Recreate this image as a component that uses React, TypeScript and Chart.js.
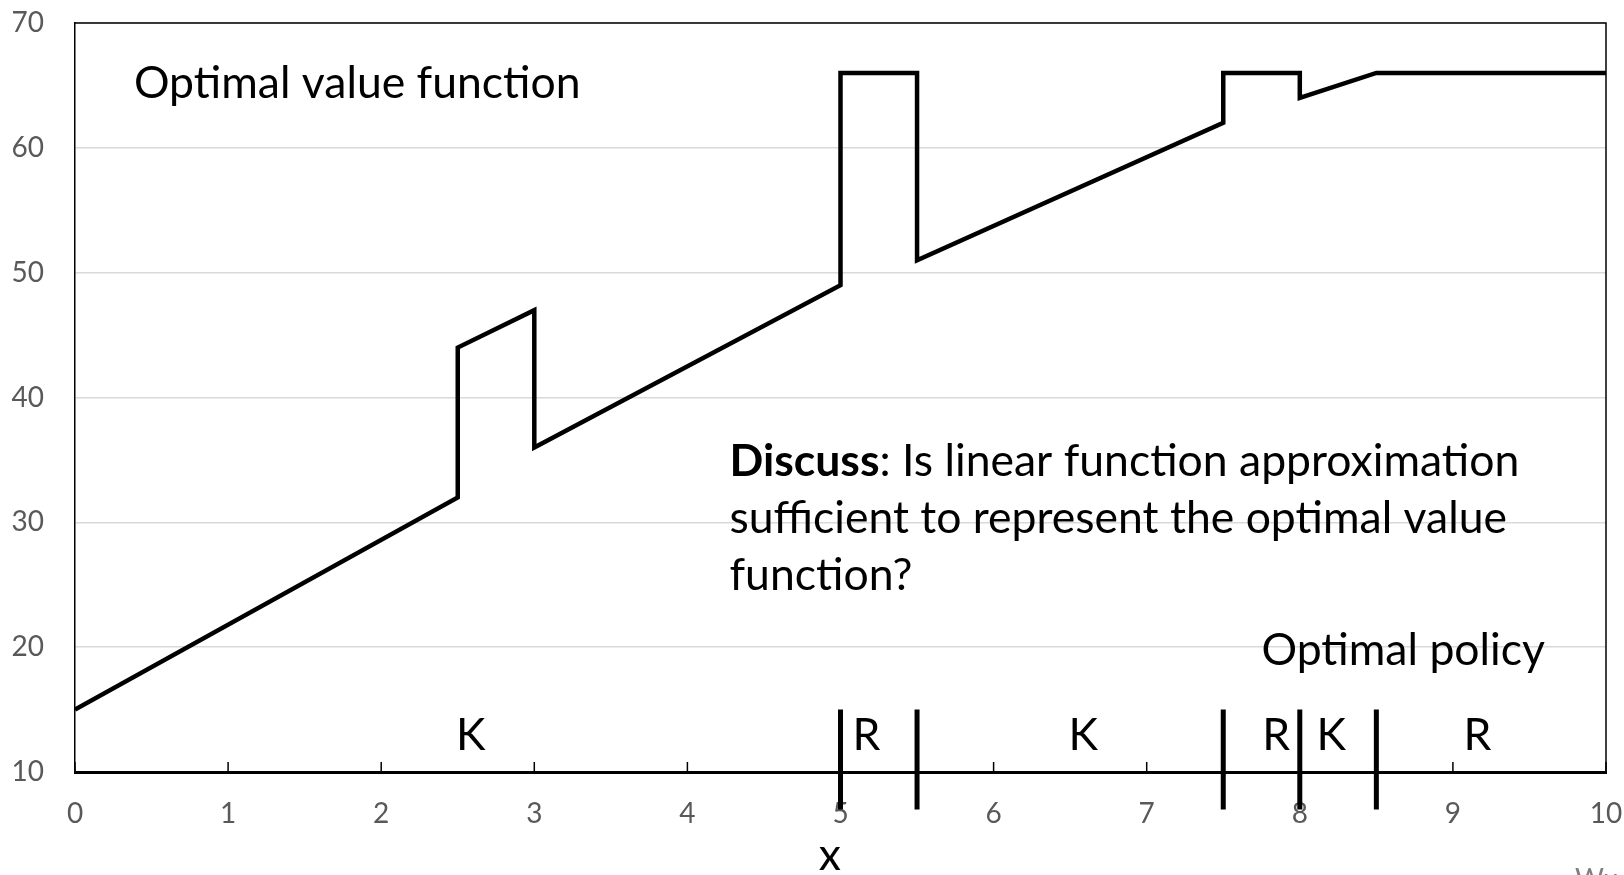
import React, { useEffect, useRef } from 'react';
import { Chart, registerables } from 'chart.js';

Chart.register(...registerables);

// ---- data ----
const valueX = [0, 2.5, 2.5, 3, 3, 5, 5, 5.5, 5.5, 7.5, 7.5, 8, 8, 8.5, 10];
const valueY = [15, 32, 44, 47, 36, 49, 66, 66, 51, 62, 66, 66, 64, 66, 66];

const policyBoundaries = [5, 5.5, 7.5, 8, 8.5];
const boundaryExtent = [15, 7];

const policyLabels = ['K', 'R', 'K', 'R', 'K', 'R'];
const policyLabelX = [2.585, 5.17, 6.585, 7.845, 8.205, 9.16];
const policyLabelY = 11.8;

const xTickValues = [0, 1, 2, 3, 4, 5, 6, 7, 8, 9, 10];
const yTickValues = [10, 20, 30, 40, 50, 60, 70];

const titleText = 'Optimal value function';
const titlePos = [0.385, 64.0];
const discussBold = 'Discuss';
const discussLines = [': Is linear function approximation', 'sufficient to represent the optimal value', 'function?'];
const discussX = 4.275;
const discussY = [33.7, 29.15, 24.6];
const policyTitle = 'Optimal policy';
const policyTitlePos = [7.75, 18.57];
const xAxisTitle = 'x';
const xAxisTitleX = 4.93;
const creditText = 'Wu';

const FONT = 'Lato, "Open Sans", sans-serif';
const BIG = 44.5;
const SMALL = 28;

const decorPlugin = {
  id: 'decor',
  afterDatasetsDraw(chart: any) {
    const { ctx, chartArea } = chart;
    const xs = chart.scales.x;
    ctx.save();
    ctx.strokeStyle = '#000';
    ctx.lineWidth = 1.5;
    ctx.beginPath();
    ctx.moveTo(chartArea.left, chartArea.top);
    ctx.lineTo(chartArea.right, chartArea.top);
    ctx.lineTo(chartArea.right, chartArea.bottom);
    ctx.stroke();
    // inward tick marks
    ctx.beginPath();
    xTickValues.forEach((v) => {
      const px = xs.getPixelForValue(v);
      ctx.moveTo(px, chartArea.bottom);
      ctx.lineTo(px, chartArea.bottom - 10);
    });
    ctx.stroke();
    ctx.restore();
  },
  afterDraw(chart: any) {
    const { ctx } = chart;
    const xs = chart.scales.x;
    const ys = chart.scales.y;
    ctx.save();
    ctx.fillStyle = '#000';
    ctx.textBaseline = 'alphabetic';
    ctx.textAlign = 'left';
    ctx.font = `${BIG}px ${FONT}`;
    ctx.fillText(titleText, xs.getPixelForValue(titlePos[0]), ys.getPixelForValue(titlePos[1]));
    ctx.fillText(policyTitle, xs.getPixelForValue(policyTitlePos[0]), ys.getPixelForValue(policyTitlePos[1]));

    const dx = xs.getPixelForValue(discussX);
    ctx.font = `bold ${BIG}px ${FONT}`;
    const bw = ctx.measureText(discussBold).width;
    ctx.fillText(discussBold, dx, ys.getPixelForValue(discussY[0]));
    ctx.font = `${BIG}px ${FONT}`;
    discussLines.forEach((line, i) => {
      ctx.fillText(line, i === 0 ? dx + bw : dx, ys.getPixelForValue(discussY[i]));
    });

    ctx.textAlign = 'center';
    policyLabels.forEach((lab, i) => {
      ctx.fillText(lab, xs.getPixelForValue(policyLabelX[i]), ys.getPixelForValue(policyLabelY));
    });

    // x axis title
    ctx.fillText(xAxisTitle, xs.getPixelForValue(xAxisTitleX), chart.height - 5);

    ctx.textAlign = 'left';
    ctx.fillStyle = '#7f7f7f';
    ctx.font = `${SMALL}px ${FONT}`;
    ctx.fillText(creditText, chart.width - 49, chart.height + 14);
    ctx.restore();
  },
};

export default function App() {
  const ref = useRef<HTMLCanvasElement | null>(null);
  useEffect(() => {
    if (!ref.current) return;
    const datasets: any[] = [
      {
        label: 'Optimal value function',
        data: valueX.map((x, i) => ({ x, y: valueY[i] })),
        borderColor: '#000',
        backgroundColor: '#000',
        borderWidth: 4.5,
        pointRadius: 0,
        tension: 0,
        borderJoinStyle: 'miter',
        fill: false,
      },
      ...policyBoundaries.map((b) => ({
        label: 'boundary',
        data: boundaryExtent.map((y) => ({ x: b, y })),
        borderColor: '#000',
        borderWidth: 5,
        pointRadius: 0,
        clip: false,
        fill: false,
      })),
    ];
    const chart = new Chart(ref.current, {
      type: 'line',
      data: { datasets },
      options: {
        animation: false,
        responsive: false,
        maintainAspectRatio: false,
        layout: { padding: { top: 23, right: 18, left: 0, bottom: 0 } },
        plugins: { legend: { display: false }, tooltip: { enabled: false } },
        scales: {
          x: {
            type: 'linear',
            min: 0,
            max: 10,
            afterBuildTicks: (s: any) => {
              s.ticks = xTickValues.map((v) => ({ value: v }));
            },
            ticks: {
              color: '#595959',
              font: { family: FONT, size: SMALL },
              padding: 25,
              maxRotation: 0,
              autoSkip: false,
            },
            grid: { display: false, drawTicks: false },
            border: { display: true, color: '#000', width: 3 },
            title: { display: false },
            afterFit: (s: any) => {
              s.height = 103;
              s.paddingLeft = 0;
              s.paddingRight = 0;
            },
          },
          y: {
            type: 'linear',
            min: 10,
            max: 70,
            afterBuildTicks: (s: any) => {
              s.ticks = yTickValues.map((v) => ({ value: v }));
            },
            ticks: {
              color: '#595959',
              font: { family: FONT, size: SMALL },
              padding: 31,
            },
            grid: { color: '#d9d9d9', lineWidth: 1.5, drawTicks: false },
            border: { display: true, color: '#000', width: 1.5 },
            afterFit: (s: any) => {
              s.width = 75;
              s.paddingTop = 0;
              s.paddingBottom = 0;
            },
          },
        },
      },
      plugins: [decorPlugin],
    });
    return () => chart.destroy();
  }, []);
  return (
    <div style={{ position: 'fixed', left: 0, top: 0, width: 1624, height: 875, background: '#fff' }}>
      <canvas ref={ref} width={1624} height={875} style={{ width: 1624, height: 875 }} />
    </div>
  );
}
